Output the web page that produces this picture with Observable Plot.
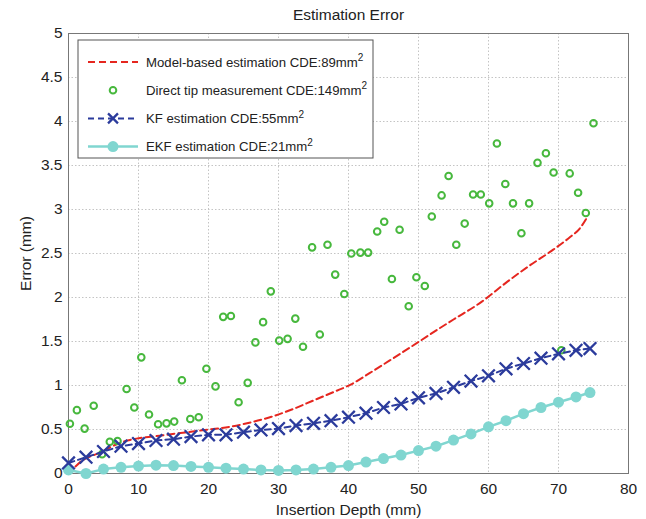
<!DOCTYPE html>
<html>
<head>
<meta charset="utf-8">
<script src="https://cdn.jsdelivr.net/npm/d3@7"></script>
<script src="https://cdn.jsdelivr.net/npm/@observablehq/plot@0.6"></script>
<style>
  html, body { margin: 0; padding: 0; background: #fff; }
  #chart { width: 646px; height: 519px; }
</style>
</head>
<body>
<div id="chart"></div>
<script>
// ---- Data ----
const modelX = [1, 2, 3, 4.6, 6, 8.4, 10, 13, 16, 20, 23, 26, 29, 32, 35, 38, 40.3, 43, 46, 50.3, 53, 55, 59, 62.7, 66, 69, 71.7, 73, 74];
const modelY = [0.08, 0.15, 0.19, 0.24, 0.30, 0.375, 0.40, 0.43, 0.46, 0.50, 0.53, 0.58, 0.645, 0.73, 0.83, 0.93, 1.01, 1.14, 1.29, 1.51, 1.65, 1.75, 1.95, 2.18, 2.37, 2.53, 2.69, 2.78, 2.90];

const tipX = [0.2, 1.2, 2.3, 3.6, 4.8, 5.9, 7.0, 8.3, 9.4, 10.4, 11.5, 12.8, 14.0, 15.1, 16.2, 17.4, 18.6, 19.7, 21.0, 22.1, 23.2, 24.3, 25.6, 26.7, 27.8, 28.9, 30.1, 31.3, 32.4, 33.5, 34.8, 35.9, 37.0, 38.1, 39.4, 40.4, 41.7, 42.8, 44.1, 45.1, 46.2, 47.3, 48.6, 49.7, 50.9, 51.9, 53.3, 54.3, 55.4, 56.6, 57.8, 58.9, 60.1, 61.2, 62.4, 63.5, 64.7, 65.8, 67.0, 68.2, 69.3, 70.4, 71.6, 72.8, 73.9, 75.0];
const tipY = [0.565, 0.72, 0.51, 0.77, 0.22, 0.36, 0.37, 0.96, 0.75, 1.32, 0.67, 0.56, 0.57, 0.59, 1.06, 0.62, 0.64, 1.19, 0.99, 1.78, 1.79, 0.81, 1.03, 1.49, 1.72, 2.07, 1.51, 1.53, 1.76, 1.44, 2.57, 1.58, 2.60, 2.26, 2.04, 2.50, 2.51, 2.51, 2.75, 2.86, 2.21, 2.77, 1.90, 2.23, 2.13, 2.92, 3.16, 3.38, 2.60, 2.84, 3.17, 3.17, 3.07, 3.75, 3.29, 3.07, 2.73, 3.07, 3.53, 3.64, 3.42, 1.40, 3.41, 3.19, 2.96, 3.98];

const filterX = [0, 2.5, 5, 7.5, 10, 12.5, 15, 17.5, 20, 22.5, 25, 27.5, 30, 32.5, 35, 37.5, 40, 42.5, 45, 47.5, 50, 52.5, 55, 57.5, 60, 62.5, 65, 67.5, 70, 72.5, 74.5];
const kfY = [0.12, 0.185, 0.25, 0.31, 0.34, 0.375, 0.39, 0.42, 0.44, 0.44, 0.47, 0.495, 0.51, 0.545, 0.57, 0.60, 0.64, 0.685, 0.75, 0.79, 0.86, 0.91, 0.98, 1.05, 1.11, 1.19, 1.25, 1.31, 1.36, 1.40, 1.42];
const ekfY = [0.04, 0.0, 0.05, 0.07, 0.085, 0.095, 0.09, 0.08, 0.07, 0.06, 0.05, 0.04, 0.035, 0.04, 0.05, 0.07, 0.09, 0.13, 0.17, 0.21, 0.26, 0.31, 0.38, 0.45, 0.53, 0.60, 0.68, 0.75, 0.81, 0.87, 0.92];

const xTicks = [0, 10, 20, 30, 40, 50, 60, 70, 80];
const yTicks = [0, 0.5, 1, 1.5, 2, 2.5, 3, 3.5, 4, 4.5, 5];

const titleText = "Estimation Error";
const xLabel = "Insertion Depth (mm)";
const yLabel = "Error (mm)";

const legendNames = ["Model-based estimation CDE:89mm", "Direct tip measurement CDE:149mm", "KF estimation CDE:55mm", "EKF estimation CDE:21mm"];

const RED = "#e5261f", GREEN = "#47b83d", BLUE = "#2b3b9c", CYAN = "#80d6d0";

const model = modelX.map((x, i) => ({x, y: modelY[i]}));
const tip = tipX.map((x, i) => ({x, y: tipY[i]}));
const kf = filterX.map((x, i) => ({x, y: kfY[i]}));
const ekf = filterX.map((x, i) => ({x, y: ekfY[i]}));

const FONT = "'Liberation Sans', Arial, Helvetica, sans-serif";
const AXFS = 15.5;

const plot = Plot.plot({
  width: 646,
  height: 519,
  marginLeft: 68,
  marginRight: 18,
  marginTop: 33,
  marginBottom: 46,
  style: {fontFamily: FONT, fontSize: AXFS + "px", color: "#222", background: "#fff"},
  x: {domain: [0, 80], ticks: xTicks, tickFormat: d => String(d)},
  y: {domain: [0, 5], ticks: yTicks, tickFormat: d => String(d)},
  marks: [
    Plot.gridX(xTicks, {stroke: "#c4c4c4", strokeOpacity: 1, strokeDasharray: "1.5,2"}),
    Plot.gridY(yTicks, {stroke: "#c4c4c4", strokeOpacity: 1, strokeDasharray: "1.5,2"}),
    Plot.axisX(xTicks, {tickSize: 0, tickPadding: 9, tickFormat: d => String(d), label: xLabel, labelAnchor: "center", labelArrow: "none", labelOffset: 41, fontSize: AXFS}),
    Plot.axisY(yTicks, {tickSize: 0, tickPadding: 6, tickFormat: d => String(d), label: yLabel, labelAnchor: "center", labelArrow: "none", labelOffset: 49, fontSize: AXFS}),
    Plot.frame({stroke: "#777"}),
    Plot.line(model, {x: "x", y: "y", stroke: RED, strokeWidth: 2, strokeDasharray: "7,4", curve: "monotone-x"}),
    Plot.dot(tip, {x: "x", y: "y", r: 3.3, stroke: GREEN, strokeWidth: 2, fill: "none"}),
    Plot.line(ekf, {x: "x", y: "y", stroke: CYAN, strokeWidth: 2.5}),
    Plot.dot(ekf, {x: "x", y: "y", r: 5.5, fill: CYAN, stroke: "none"}),
    Plot.line(kf, {x: "x", y: "y", stroke: BLUE, strokeWidth: 2, strokeDasharray: "6,4"}),
    Plot.dot(kf, {x: "x", y: "y", symbol: "times", r: 5.8, stroke: BLUE, strokeWidth: 2.3}),
    Plot.text([titleText], {text: d => d, frameAnchor: "top", dy: -25, fontSize: AXFS, fill: "#222"})
  ]
});

// ---- Legend (drawn in the plot's SVG, upper left) ----
const svg = d3.select(plot);
const LFS = 13.2;
const lg = svg.append("g").attr("font-family", FONT).attr("font-size", LFS).attr("text-anchor", "start");
const lx = 78, ly = 40, lw = 295, lh = 118, rowH = 28.2, row0 = 62;
lg.append("rect").attr("x", lx).attr("y", ly).attr("width", lw).attr("height", lh)
  .attr("fill", "#fff").attr("stroke", "#555").attr("stroke-width", 1);
const sx1 = 88, sx2 = 138, sm = 113, tx = 146;
legendNames.forEach((name, i) => {
  const cy = row0 + i * rowH;
  if (i === 0) {
    lg.append("line").attr("x1", sx1).attr("x2", sx2).attr("y1", cy).attr("y2", cy)
      .attr("stroke", RED).attr("stroke-width", 2).attr("stroke-dasharray", "7,4");
  } else if (i === 1) {
    lg.append("circle").attr("cx", sm).attr("cy", cy).attr("r", 3.3)
      .attr("fill", "none").attr("stroke", GREEN).attr("stroke-width", 2);
  } else if (i === 2) {
    lg.append("line").attr("x1", sx1).attr("x2", sx2).attr("y1", cy).attr("y2", cy)
      .attr("stroke", BLUE).attr("stroke-width", 2).attr("stroke-dasharray", "6,4");
    lg.append("path").attr("d", d3.symbol(d3.symbolTimes, 66)()).attr("transform", `translate(${sm},${cy})`)
      .attr("fill", "none").attr("stroke", BLUE).attr("stroke-width", 2.3);
  } else {
    lg.append("line").attr("x1", sx1).attr("x2", sx2).attr("y1", cy).attr("y2", cy)
      .attr("stroke", CYAN).attr("stroke-width", 2.5);
    lg.append("circle").attr("cx", sm).attr("cy", cy).attr("r", 5.5).attr("fill", CYAN);
  }
  const t = lg.append("text").attr("x", tx).attr("y", cy).attr("dy", "0.35em").attr("fill", "#222").attr("text-anchor", "start");
  t.append("tspan").text(name);
  t.append("tspan").attr("dy", "-0.55em").attr("font-size", 10).text("2");
});

document.getElementById("chart").appendChild(plot);
</script>
</body>
</html>
